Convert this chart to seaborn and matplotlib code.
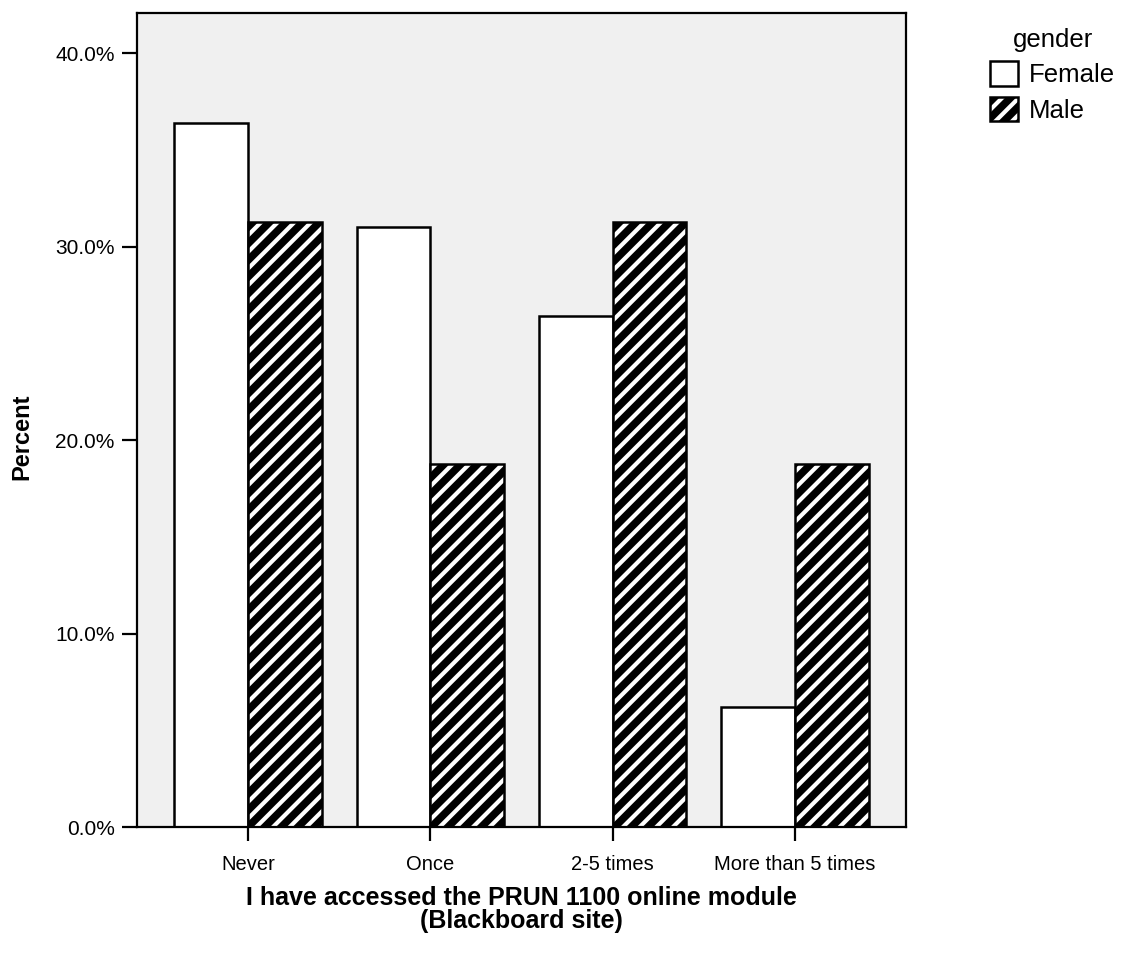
import pandas as pd
import matplotlib
matplotlib.use('Agg')
import matplotlib.pyplot as plt
import seaborn as sns
from matplotlib.patches import Patch
from matplotlib.ticker import PercentFormatter

# data
categories = ['Never', 'Once', '2-5 times', 'More than 5 times']
female_pct = [36.4, 31.0, 26.4, 6.2]
male_pct = [31.25, 18.75, 31.25, 18.75]

df = pd.DataFrame({
    'access': categories * 2,
    'gender': ['Female'] * 4 + ['Male'] * 4,
    'percent': female_pct + male_pct,
})

sns.set_style('white')
plt.rcParams['font.family'] = ['Liberation Sans', 'DejaVu Sans']
plt.rcParams['text.color'] = 'black'
plt.rcParams['axes.labelcolor'] = 'black'
plt.rcParams['hatch.linewidth'] = 3.0


def white_hatch(p):
    p.set_hatch('//')
    if hasattr(p, 'set_hatchcolor'):
        p.set_hatchcolor('white')
    else:
        p._hatch_color = (1, 1, 1, 1)


fig = plt.figure(figsize=(11.25, 9.56), dpi=100)
ax = fig.add_axes([0.1218, 0.1349, 0.6835, 0.8515])
ax.set_facecolor('#f0f0f0')

sns.barplot(data=df, x='access', y='percent', hue='gender', order=categories,
            hue_order=['Female', 'Male'], palette={'Female': 'white', 'Male': 'black'},
            width=0.81, edgecolor='black', linewidth=1.8, errorbar=None,
            legend=False, ax=ax)

# male bars: black with white diagonal stripes
for bar in ax.containers[1]:
    bar.set_edgecolor('black')
    white_hatch(bar)

ax.set_xlim(-0.61, 3.61)
ax.set_ylim(0, 42.07)
ax.set_yticks([0, 10, 20, 30, 40])
ax.yaxis.set_major_formatter(PercentFormatter(xmax=100, decimals=1))

for s in ax.spines.values():
    s.set_color('black')
    s.set_linewidth(1.6)

ax.tick_params(axis='y', direction='out', length=11, width=1.6, labelsize=15,
               left=True, colors='black', pad=5)
ax.tick_params(axis='x', direction='out', length=10, width=1.6, labelsize=14.5,
               bottom=True, colors='black', pad=10)

ax.set_ylabel('Percent', fontsize=17, fontweight='bold')
ax.yaxis.set_label_coords(-0.135, 0.479)
ax.set_xlabel('I have accessed the PRUN 1100 online module\n(Blackboard site)',
              fontsize=18, fontweight='bold', labelpad=9, linespacing=0.92)

female_h = Patch(facecolor='white', edgecolor='black', linewidth=1.8)
male_h = Patch(facecolor='black', edgecolor='black', linewidth=1.8)
leg = fig.legend([female_h, male_h], ['Female', 'Male'], title='gender',
                 loc='upper left', bbox_to_anchor=(0.864, 0.99), frameon=False,
                 fontsize=18.5, title_fontsize=18.5, handlelength=1.08,
                 handleheight=1.08, handletextpad=0.45, labelspacing=0.38,
                 borderpad=0.2)
for h in leg.legend_handles:
    if h.get_facecolor()[0] < 0.5:
        white_hatch(h)

fig.savefig('out.png', dpi=100)
